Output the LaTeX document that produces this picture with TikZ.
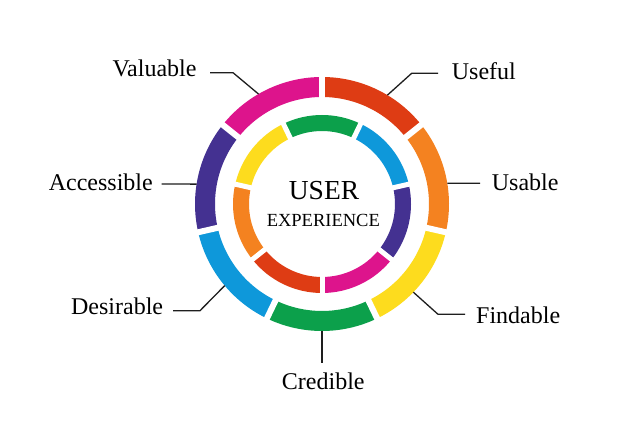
\documentclass[tikz,border=0pt]{standalone}
\usepackage{fontspec}
\setmainfont{Liberation Serif}
\definecolor{cMag}{RGB}{221,20,140}
\definecolor{cRed}{RGB}{222,60,20}
\definecolor{cOra}{RGB}{244,130,32}
\definecolor{cYel}{RGB}{253,220,30}
\definecolor{cGre}{RGB}{12,160,75}
\definecolor{cBlu}{RGB}{14,152,218}
\definecolor{cPur}{RGB}{68,49,145}
\definecolor{cLine}{RGB}{30,30,30}
\begin{document}
\begin{tikzpicture}[x=1pt,y=1pt,
  outerseg/.style={line width=20pt},
  innerseg/.style={line width=16pt},
  gapline/.style={white,line width=6pt},
  igapline/.style={white,line width=5pt},
  lbl/.style={font=\fontsize{24}{28}\selectfont,inner sep=0pt,text=black},
  conn/.style={draw=cLine,line width=1.3pt}]
\useasboundingbox (0,0) rectangle (640,427);
\fill[white] (0,0) rectangle (640,427);
\begin{scope}[shift={(322pt,223pt)}]
  % outer ring, 7 segments
  \foreach \c [count=\i from 0] in {cRed,cOra,cYel,cGre,cBlu,cPur,cMag}{
    \pgfmathsetmacro{\aS}{90-\i*360/7}
    \pgfmathsetmacro{\aE}{90-(\i+1)*360/7}
    \draw[outerseg,\c] (\aS:117pt) arc[start angle=\aS,end angle=\aE,radius=117pt];
  }
  % inner ring, 7 segments
  \foreach \c [count=\i from 0] in {cMag,cPur,cBlu,cGre,cYel,cOra,cRed}{
    \pgfmathsetmacro{\aS}{-90+\i*360/7}
    \pgfmathsetmacro{\aE}{-90+(\i+1)*360/7}
    \draw[innerseg,\c] (\aS:81pt) arc[start angle=\aS,end angle=\aE,radius=81pt];
  }
  % gaps
  \foreach \i in {0,...,6}{
    \pgfmathsetmacro{\a}{90+\i*360/7}
    \draw[gapline] (\a:104pt) -- (\a:130pt);
    \pgfmathsetmacro{\b}{-90+\i*360/7}
    \draw[igapline] (\b:70pt) -- (\b:92pt);
  }
  % ring points
  \coordinate (pVal) at (120:127pt);
  \coordinate (pUsf) at (59:127pt);
  \coordinate (pUsa) at (9.4:127pt);
  \coordinate (pFin) at (-44:127pt);
  \coordinate (pCre) at (-90:127pt);
  \coordinate (pDes) at (220:127pt);
  \coordinate (pAcc) at (171:127pt);
\end{scope}
% centre text
\node[font=\fontsize{27.5}{30}\selectfont,inner sep=0pt,anchor=base] (user) at (324,227.7) {USER};
\node[font=\fontsize{18.5}{22}\selectfont,inner sep=0pt,anchor=base] (exp) at (323.3,200.3) {EXPERIENCE};
% labels
\node[lbl,anchor=base east] (val) at (196.7,350.3) {Valuable};
\node[lbl,anchor=base west] (usf) at (451.7,347.7) {Useful};
\node[lbl,anchor=base west] (usa) at (491.7,236) {Usable};
\node[lbl,anchor=base west] (fin) at (476,103.7) {Findable};
\node[lbl,anchor=base] (cre) at (323.3,37) {Credible};
\node[lbl,anchor=base east] (des) at (163.3,112) {Desirable};
\node[lbl,anchor=base east] (acc) at (153,236.3) {Accessible};
% elbows and ends
\coordinate (eVal) at (233,354.3);  \coordinate (tVal) at (210,354.3);
\coordinate (eUsf) at (411.7,353.7); \coordinate (tUsf) at (438,353.7);
\coordinate (tUsa) at (480,243.7);
\coordinate (eFin) at (438,112.7);  \coordinate (tFin) at (465,112.7);
\coordinate (tCre) at (322,64);
\coordinate (eDes) at (200,116.3);  \coordinate (tDes) at (173,116.3);
\coordinate (tAcc) at (161.7,243);
% connectors
\draw[conn] (pVal) -- (eVal) -- (tVal);
\draw[conn] (pUsf) -- (eUsf) -- (tUsf);
\draw[conn] (pUsa) -- (tUsa);
\draw[conn] (pFin) -- (eFin) -- (tFin);
\draw[conn] (pCre) -- (tCre);
\draw[conn] (pDes) -- (eDes) -- (tDes);
\draw[conn] (pAcc) -- (tAcc);
\end{tikzpicture}
\end{document}
